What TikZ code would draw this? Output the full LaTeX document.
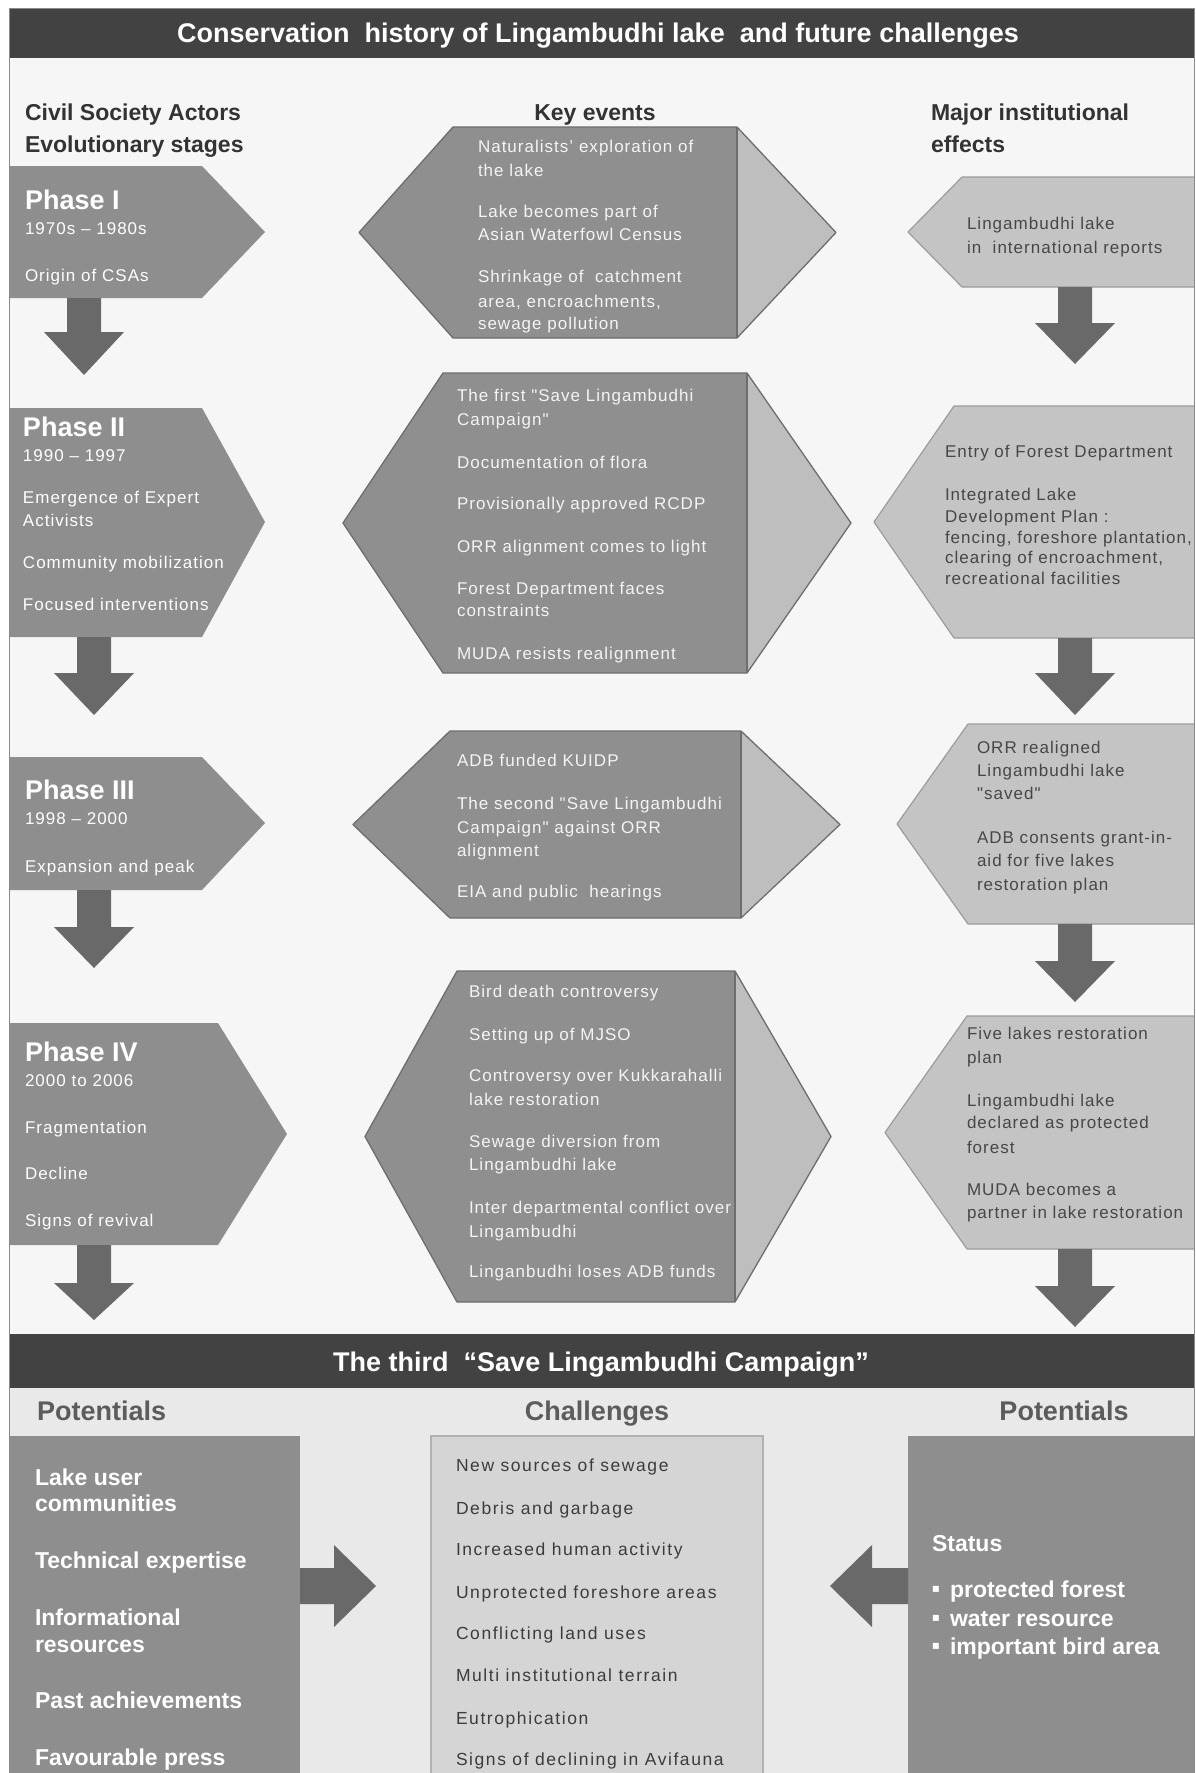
\documentclass[tikz,border=0pt]{standalone}
\usepackage{fontspec}
\setmainfont{Liberation Sans}
\newfontfamily\bodyfont[LetterSpace=6]{Liberation Sans}
\newfontfamily\chalfont[LetterSpace=9]{Liberation Sans}
\newfontfamily\symfont{DejaVu Sans}

\definecolor{pagebg}{HTML}{F6F6F6}
\definecolor{barbg}{HTML}{424242}
\definecolor{phasefill}{HTML}{8E8E8E}
\definecolor{arrowfill}{HTML}{696969}
\definecolor{hexdark}{HTML}{8F8F8F}
\definecolor{hexlight}{HTML}{BEBEBE}
\definecolor{hexline}{HTML}{6E6E6E}
\definecolor{hextext}{HTML}{F4F4F4}
\definecolor{efffill}{HTML}{C4C4C4}
\definecolor{effline}{HTML}{9C9C9C}
\definecolor{efftext}{HTML}{474747}
\definecolor{bandbg}{HTML}{E9E9E9}
\definecolor{chalfill}{HTML}{D5D5D5}
\definecolor{challine}{HTML}{B2B2B2}
\definecolor{chaltext}{HTML}{3C3C3C}
\definecolor{headtext}{HTML}{333333}
\definecolor{subhead}{HTML}{5C5C5C}
\definecolor{frameline}{HTML}{8A8A8A}

\tikzset{
  txtbase/.style={anchor=base west, inner sep=0pt, outer sep=0pt},
  body/.style={txtbase, yshift=-6pt, font=\bodyfont\fontsize{17}{20}\selectfont},
  phl/.style={body, text=white},
  evt/.style={body, text=hextext},
  eff/.style={body, text=efftext},
  phn/.style={txtbase, yshift=-9.5pt, text=white, font=\bfseries\fontsize{27}{30}\selectfont},
  colhd/.style={txtbase, yshift=-8.2pt, text=headtext, font=\bfseries\fontsize{23}{26}\selectfont},
  bartitle/.style={anchor=base, inner sep=0pt, yshift=-9.5pt, text=white, font=\bfseries\fontsize{27}{30}\selectfont},
  subhd/.style={anchor=base, inner sep=0pt, yshift=-9.5pt, text=subhead, font=\bfseries\fontsize{27}{30}\selectfont},
  potl/.style={txtbase, yshift=-8.2pt, text=white, font=\bfseries\fontsize{23}{26}\selectfont},
  bulletmark/.style={anchor=center, inner sep=0pt, text=white, font=\symfont\fontsize{12}{12}\selectfont},
  chl/.style={txtbase, yshift=-6.2pt, text=chaltext, font=\chalfont\fontsize{17.5}{20}\selectfont},
}

% one node per text line: style, name prefix, x, list of y/text
\newcommand\textlines[4]{%
  \foreach \yy/\tx [count=\k] in {#4} {\node[#1] (#2-\k) at (#3,\yy) {\tx};}}

% key-event hexagon: left tip x, corner x, divider x, right tip x, top y, bottom y
\newcommand\keyhex[6]{%
  \pgfmathsetmacro\kmid{(#5+#6)/2}
  \fill[hexdark] (#1,\kmid) -- (#2,#5) -- (#3,#5) -- (#3,#6) -- (#2,#6) -- cycle;
  \fill[hexlight] (#3,#5) -- (#4,\kmid) -- (#3,#6) -- cycle;
  \draw[hexline, line width=1.3pt, line join=round] (#1,\kmid) -- (#2,#5) -- (#3,#5) -- (#4,\kmid) -- (#3,#6) -- (#2,#6) -- cycle;
  \draw[hexline, line width=2pt] (#3,#5) -- (#3,#6);}

% institutional-effect pentagon: tip x, corner x, top y, bottom y
\newcommand\effectbox[4]{%
  \pgfmathsetmacro\emid{(#3+#4)/2}
  \filldraw[fill=efffill, draw=effline, line width=1.2pt, line join=round] (1194,#3) -- (#2,#3) -- (#1,\emid) -- (#2,#4) -- (1194,#4);}

% downward block arrow from a root coordinate: shaft length, head length
\newcommand\blockdown[3]{%
  \fill[arrowfill] (#1) ++(-17,0) -- ++(34,0) -- ++(0,#2) -- ++(23,0) -- ++(-40,#3) -- ++(-40,-#3) -- ++(23,0) -- cycle;}

\begin{document}
\begin{tikzpicture}[x=1pt,y=-1pt]
\useasboundingbox (0,0) rectangle (1196,1773);
\fill[white] (0,0) rectangle (1196,1773);
\fill[pagebg] (9,8) rectangle (1194,1773);

% ---------- header ----------
\fill[barbg] (9,8) rectangle (1194,58);
\node[bartitle] (title) at (598,33) {Conservation\ \ history of Lingambudhi lake\ \ and future challenges};

\node[colhd] (hdA1) at (25,112) {Civil Society Actors};
\node[colhd] (hdA2) at (25,144) {Evolutionary stages};
\node[colhd, anchor=base] (hdB) at (595,112) {Key events};
\node[colhd] (hdC1) at (931,112) {Major institutional};
\node[colhd] (hdC2) at (931,144) {effects};

% ---------- civil society phases ----------
\fill[phasefill] (9,166) -- (202,166) -- (265,232) -- (202,298) -- (9,298) -- cycle;
\fill[phasefill] (9,408) -- (202,408) -- (265,522) -- (202,637) -- (9,637) -- cycle;
\fill[phasefill] (9,757) -- (202,757) -- (265,823) -- (202,890) -- (9,890) -- cycle;
\fill[phasefill] (9,1023) -- (218,1023) -- (287,1134) -- (218,1245) -- (9,1245) -- cycle;

\node[phn] (ph1) at (25,200) {Phase I};
\textlines{phl}{ph1t}{25}{228/{1970s – 1980s}, 275/{Origin of CSAs}}
\node[phn] (ph2) at (23,427) {Phase II};
\textlines{phl}{ph2t}{23}{455/{1990 – 1997}, 497/{Emergence of Expert}, 520/{Activists}, 562/{Community mobilization}, 604/{Focused interventions}}
\node[phn] (ph3) at (25,790) {Phase III};
\textlines{phl}{ph3t}{25}{818/{1998 – 2000}, 866/{Expansion and peak}}
\node[phn] (ph4) at (25,1052) {Phase IV};
\textlines{phl}{ph4t}{25}{1080/{2000 to 2006}, 1127/{Fragmentation}, 1173/{Decline}, 1220/{Signs of revival}}

\coordinate (ph1-foot) at (84,298);
\coordinate (ph2-foot) at (94,637);
\coordinate (ph3-foot) at (94,890);
\coordinate (ph4-foot) at (94,1245);
\blockdown{ph1-foot}{34}{43}
\blockdown{ph2-foot}{36}{42}
\blockdown{ph3-foot}{37}{41}
\blockdown{ph4-foot}{38}{37}

% ---------- key events ----------
\keyhex{359}{453}{737}{836}{127}{338}
\keyhex{343}{443}{747}{851}{373}{673}
\keyhex{353}{450}{741}{840}{731}{918}
\keyhex{365}{457}{735}{831}{971}{1302}

\textlines{evt}{ev1}{478}{146/{Naturalists’ exploration of}, 170/{the lake}, 211/{Lake becomes part of}, 234/{Asian Waterfowl Census}, 276/{Shrinkage of\ \ catchment}, 301/{area, encroachments,}, 323/{sewage pollution}}
\textlines{evt}{ev2}{457}{395/{The first "Save Lingambudhi}, 419/{Campaign"}, 462/{Documentation of flora}, 503/{Provisionally approved RCDP}, 546/{ORR alignment comes to light}, 588/{Forest Department faces}, 610/{constraints}, 653/{MUDA resists realignment}}
\textlines{evt}{ev3}{457}{760/{ADB funded KUIDP}, 803/{The second "Save Lingambudhi}, 827/{Campaign" against ORR}, 850/{alignment}, 891/{EIA and public\ \ hearings}}
\textlines{evt}{ev4}{469}{991/{Bird death controversy}, 1034/{Setting up of MJSO}, 1075/{Controversy over Kukkarahalli}, 1099/{lake restoration}, 1141/{Sewage diversion from}, 1164/{Lingambudhi lake}, 1207/{Inter departmental conflict over}, 1231/{Lingambudhi}, 1271/{Linganbudhi loses ADB funds}}

% ---------- institutional effects ----------
\effectbox{908}{962}{177}{287}
\effectbox{874}{954}{406}{638}
\effectbox{897}{968}{724}{924}
\effectbox{885}{967}{1016}{1249}

\textlines{eff}{ef1}{967}{223/{Lingambudhi lake}, 247/{in\ \ international reports}}
\textlines{eff}{ef2}{945}{451/{Entry of Forest Department}, 494/{Integrated Lake}, 516/{Development Plan :}, 537/{fencing, foreshore plantation,}, 557/{clearing of encroachment,}, 578/{recreational facilities}}
\textlines{eff}{ef3}{977}{747/{ORR realigned}, 770/{Lingambudhi lake}, 793/{"saved"}, 837/{ADB consents grant-in-}, 860/{aid for five lakes}, 884/{restoration plan}}
\textlines{eff}{ef4}{967}{1033/{Five lakes restoration}, 1057/{plan}, 1100/{Lingambudhi lake}, 1122/{declared as protected}, 1147/{forest}, 1189/{MUDA becomes a}, 1212/{partner in lake restoration}}

\coordinate (ef1-foot) at (1075,287);
\coordinate (ef2-foot) at (1075,638);
\coordinate (ef3-foot) at (1075,924);
\coordinate (ef4-foot) at (1075,1249);
\blockdown{ef1-foot}{36}{41}
\blockdown{ef2-foot}{35}{42}
\blockdown{ef3-foot}{37}{41}
\blockdown{ef4-foot}{37}{41}

% ---------- third campaign ----------
\fill[barbg] (9,1334) rectangle (1194,1388);
\node[bartitle] (title2) at (601,1362) {The third\ \ “Save Lingambudhi Campaign”};
\fill[bandbg] (9,1388) rectangle (1194,1773);

\node[subhd, anchor=base west] (potL) at (37,1411) {Potentials};
\node[subhd] (chal) at (597,1411) {Challenges};
\node[subhd] (potR) at (1064,1411) {Potentials};

\fill[phasefill] (9,1436) rectangle (300,1773);
\filldraw[fill=chalfill, draw=challine, line width=1.2pt] (431,1436) rectangle (763,1780);
\fill[phasefill] (908,1436) rectangle (1194,1773);

\textlines{potl}{pl}{35}{1477/{Lake user}, 1503/{communities}, 1560/{Technical expertise}, 1617/{Informational}, 1644/{resources}, 1700/{Past achievements}, 1757/{Favourable press}}
\textlines{chl}{ch}{456}{1465/{New sources of sewage}, 1508/{Debris and garbage}, 1549/{Increased human activity}, 1592/{Unprotected foreshore areas}, 1633/{Conflicting land uses}, 1675/{Multi institutional terrain}, 1718/{Eutrophication}, 1759/{Signs of declining in Avifauna}}

\node[potl] (status) at (932,1543) {Status};
\foreach \yy/\tx [count=\k] in {1589/{protected forest}, 1618/{water resource}, 1646/{important bird area}} {
  \node[bulletmark] (bul-\k) at (936,\yy) {▪};
  \node[potl] (st-\k) at (950,\yy) {\tx};
}

\coordinate (pot-edge) at (300,1586);
\coordinate (stat-edge) at (908,1586);
\fill[arrowfill] (pot-edge) ++(0,-18) -- ++(34,0) -- ++(0,-23) -- ++(42,41) -- ++(-42,41) -- ++(0,-23) -- ++(-34,0) -- cycle;
\fill[arrowfill] (stat-edge) ++(0,-18) -- ++(-36,0) -- ++(0,-23) -- ++(-42,41) -- ++(42,41) -- ++(0,-23) -- ++(36,0) -- cycle;

% ---------- outer frame ----------
\draw[frameline, line width=1pt] (9,1773) -- (9,8) -- (1194,8) -- (1194,1773);
\end{tikzpicture}
\end{document}
